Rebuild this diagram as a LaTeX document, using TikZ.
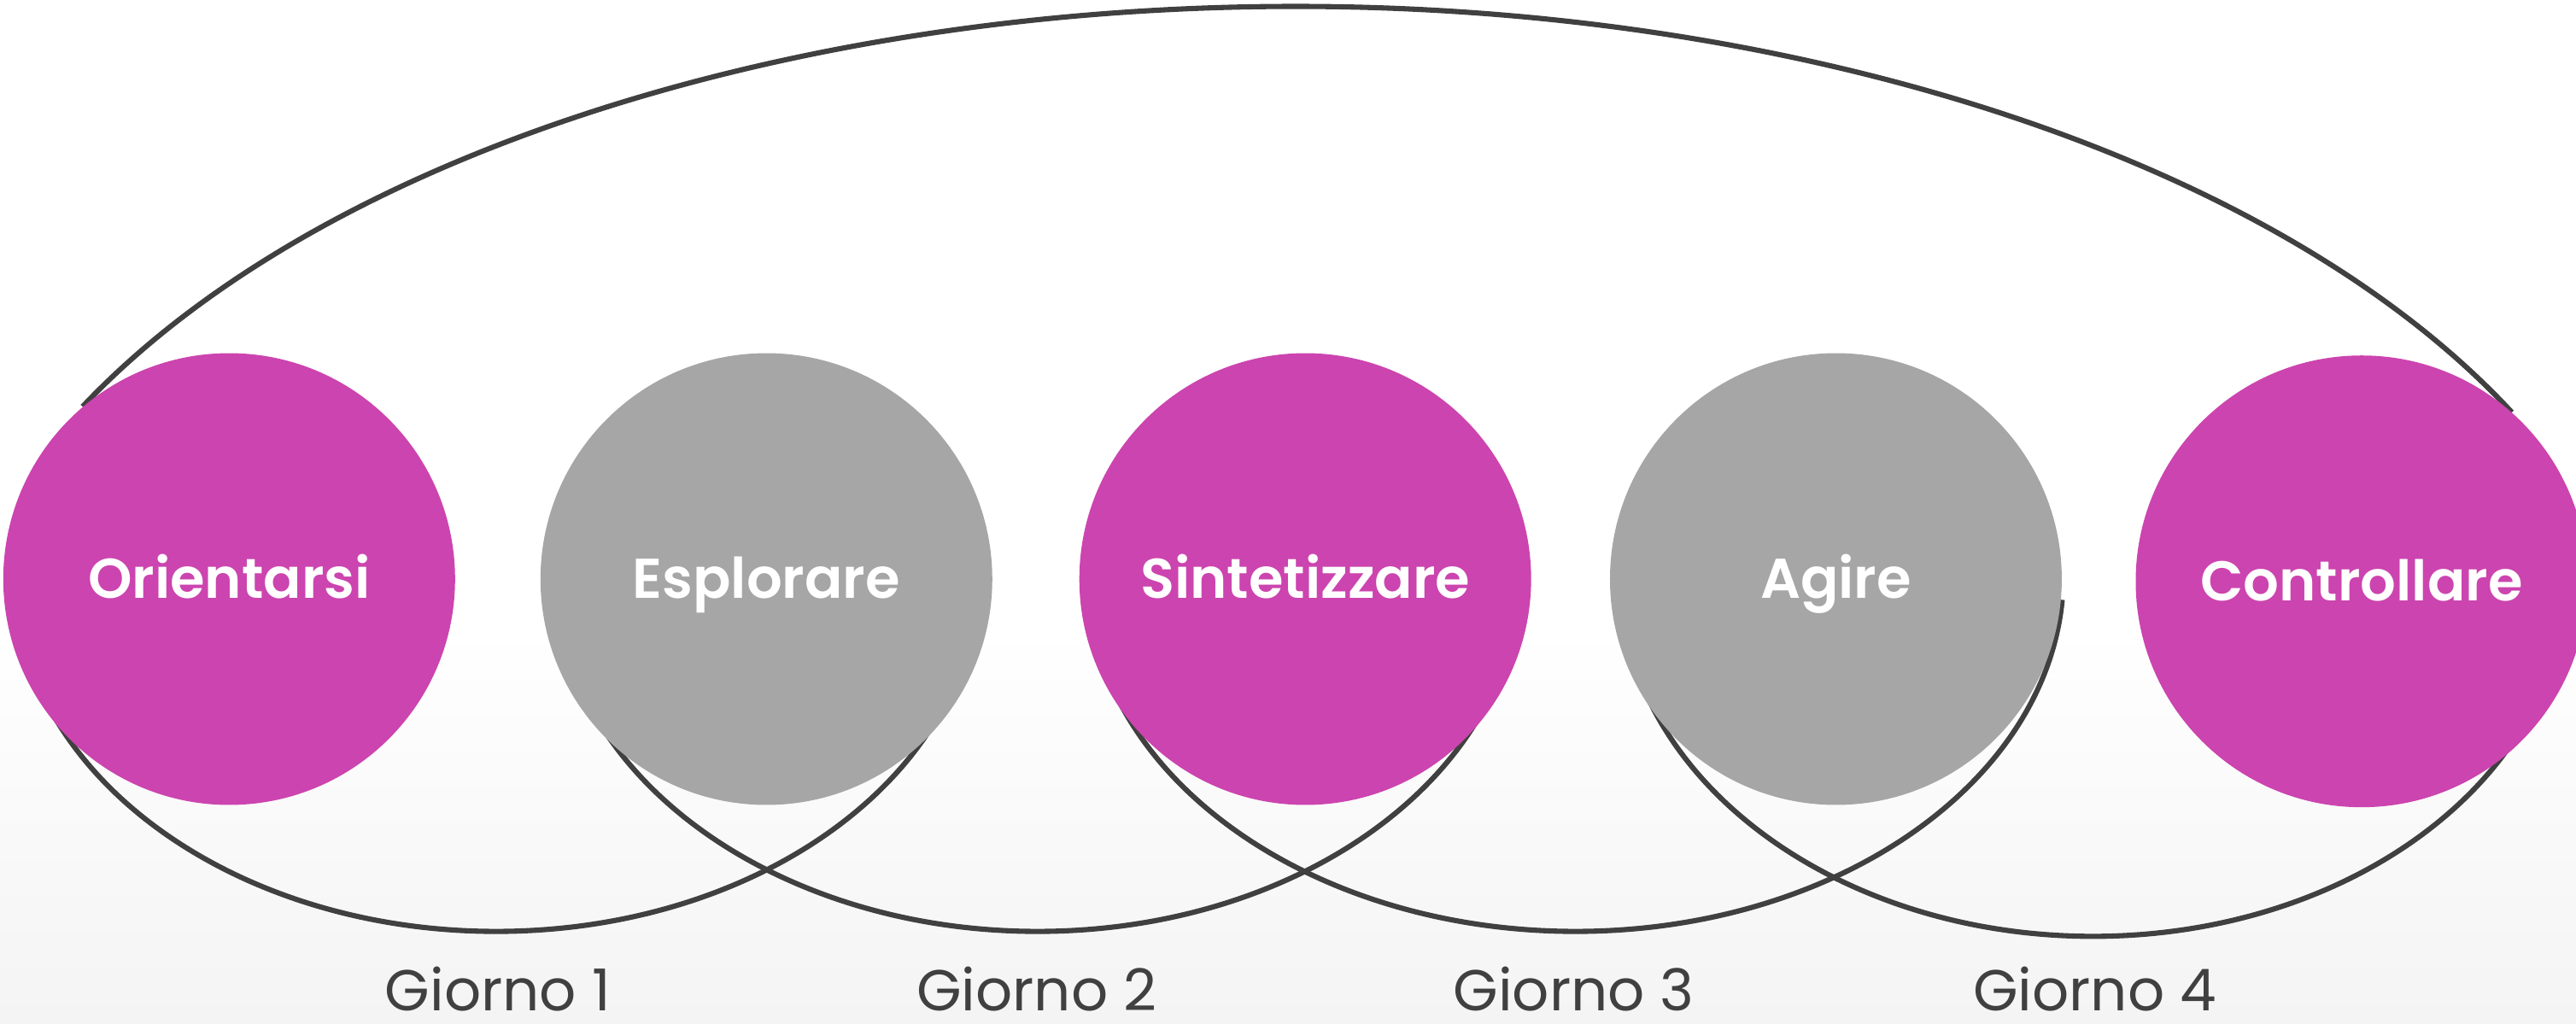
\documentclass[tikz,border=0pt]{standalone}
\usepackage{fontspec}
\setmainfont{Poppins}
\newfontfamily\phasefont{Poppins SemiBold}
\usepackage{xcolor}
\usepackage{tikz}
\usetikzlibrary{positioning}

\definecolor{phasemagenta}{RGB}{204,68,175}
\definecolor{phasegray}{RGB}{166,166,166}
\definecolor{loopgray}{RGB}{64,64,64}
\definecolor{bggray}{RGB}{244,244,244}

\begin{document}
\begin{tikzpicture}[
        x=0.1mm, y=0.1mm,
        node distance = 5.2mm,
        phase/.style = {
            circle,
            minimum size=27.5mm,
            inner sep=0pt,
            outer sep=0pt,
            text height=6.8pt,
            text depth=0pt,
            text=white,
            font=\phasefont\fontsize{9.7}{11}\selectfont
        },
        magentaphase/.style = {phase, fill=phasemagenta},
        grayphase/.style = {phase, fill=phasegray},
        dayloop/.style = {
            draw=loopgray,
            line width=0.9pt
        },
        daylabel/.style = {
            text=loopgray,
            inner sep=0pt,
            font=\fontsize{10}{12}\selectfont
        }
    ]

    % Background
    \useasboundingbox (0,0) rectangle (1568,623);
    \fill[white] (0,0) rectangle (1568,623);
    \shade[top color=white, bottom color=bggray] (0,0) rectangle (1568,243);

    % Loops
    \coordinate (bigc)  at (788,173);
    \coordinate (day1c) at (302,273);
    \coordinate (day2c) at (631.5,273);
    \coordinate (day3c) at (959,273);
    \coordinate (day4c) at (1274,273);
    \draw[dayloop] (bigc) ++(153:82.8mm and 44.6mm)
        arc[start angle=153, end angle=26.5, x radius=82.8mm, y radius=44.6mm];
    \draw[dayloop] (day1c) ++(180:29.3mm and 21.7mm)
        arc[start angle=180, end angle=360, x radius=29.3mm, y radius=21.7mm];
    \draw[dayloop] (day2c) ++(180:29.3mm and 21.7mm)
        arc[start angle=180, end angle=360, x radius=29.3mm, y radius=21.7mm];
    \draw[dayloop] (day3c) ++(180:29.7mm and 21.7mm)
        arc[start angle=180, end angle=356, x radius=29.7mm, y radius=21.7mm];
    \draw[dayloop] (day4c) ++(180:28.8mm and 22mm)
        arc[start angle=180, end angle=360, x radius=28.8mm, y radius=22mm];

    % Nodes
    \node[magentaphase] (orient) at (139.5,270.5) {Orientarsi};
    \node[grayphase, right=of orient] (esplor) {Esplorare};
    \node[magentaphase, right=5.3mm of esplor] (sintet) {Sintetizzare};
    \node[grayphase, right=4.8mm of sintet] (agire) {Agire};
    \node[magentaphase, right=4.5mm of agire, yshift=-0.4pt] (control) {Controllare};

    % Day labels
    \node[daylabel] (day1) at (303,21)  {Giorno 1};
    \node[daylabel] (day2) at (631,21)  {Giorno 2};
    \node[daylabel] (day3) at (958,21)  {Giorno 3};
    \node[daylabel] (day4) at (1275,21) {Giorno 4};

\end{tikzpicture}
\end{document}
